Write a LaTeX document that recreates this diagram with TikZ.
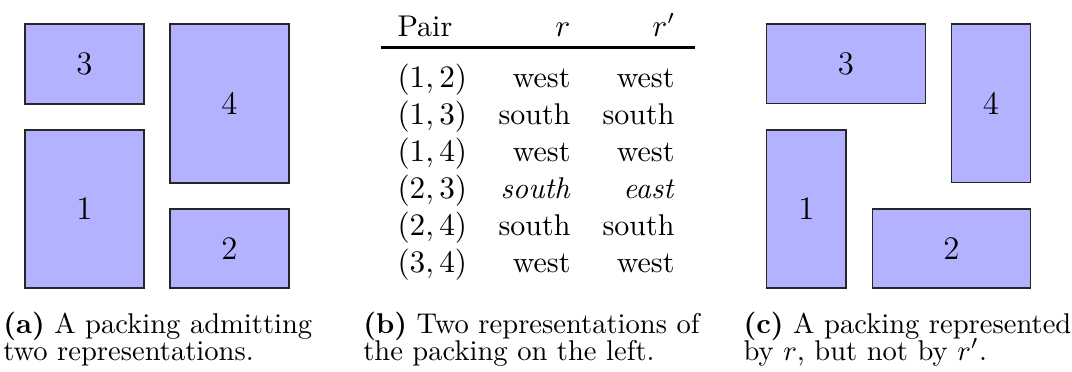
\documentclass[tikz,border=0pt]{standalone}
\usepackage{amsmath}
\begin{document}
\begin{tikzpicture}[x=0.35pt,y=-0.35pt,
  pbox/.style n args={2}{draw=black!85, fill=blue!30, line width=0.4pt, inner sep=0pt,
    font=\fontsize{11.5}{14}\selectfont,
    minimum width={#1*0.35pt}, minimum height={#2*0.35pt}},
  cellw/.style={anchor=base west, inner sep=0pt, font=\fontsize{10.5}{12.6}\selectfont},
  celle/.style={anchor=base east, inner sep=0pt, font=\fontsize{10.5}{12.6}\selectfont},
  capl/.style={anchor=base west, inner sep=0pt}]
\useasboundingbox (0,0) rectangle (1072,371);
% (a)
\node[pbox={119}{80}]  (a3) at (84.5,64)    {3};
\node[pbox={119}{158}] (a1) at (84.5,209)   {1};
\node[pbox={119}{159}] (a4) at (229.5,103.5){4};
\node[pbox={119}{79}]  (a2) at (229.5,248.5){2};
% (b) table
\node[cellw] (hp) at (397,36) {Pair};
\node[celle] (hr) at (571,36) {$r$};
\node[celle] (hq) at (676,36) {$r'$};
\coordinate (rl) at (381,47.7);
\coordinate (rr) at (695,47.7);
\draw[line width=0.9pt] (rl) -- (rr);
\foreach \p/\a/\b [count=\i from 0] in {{(1,2)}/west/west,{(1,3)}/south/south,{(1,4)}/west/west,{(2,3)}/\textit{south}/\textit{east},{(2,4)}/south/south,{(3,4)}/west/west}{
  \node[cellw] (p\i) at (397,87.5+37*\i) {$\p$};
  \node[celle] (r\i) at (571,87.5+37*\i) {\a};
  \node[celle] (q\i) at (675,87.5+37*\i) {\b};
}
% (c)
\node[pbox={158.6}{79.7}] (c3) at (846,63.9)   {3};
\node[pbox={79.4}{158.7}] (c4) at (991,103.3)  {4};
\node[pbox={79.3}{158}]   (c1) at (806.3,209)  {1};
\node[pbox={158.4}{79}]   (c2) at (951.5,248.5){2};
% captions
\node[capl] (ca1) at (2.7,333) {\textbf{(a)} A packing admitting};
\node[capl] (ca2) at (2.7,360) {two representations.};
\node[capl] (cb1) at (362.7,333) {\textbf{(b)} Two representations of};
\node[capl] (cb2) at (362.7,360) {the packing on the left.};
\node[capl] (cc1) at (743,333) {\textbf{(c)} A packing represented};
\node[capl] (cc2) at (743,360) {by $r$, but not by $r'$.};
\end{tikzpicture}
\end{document}
